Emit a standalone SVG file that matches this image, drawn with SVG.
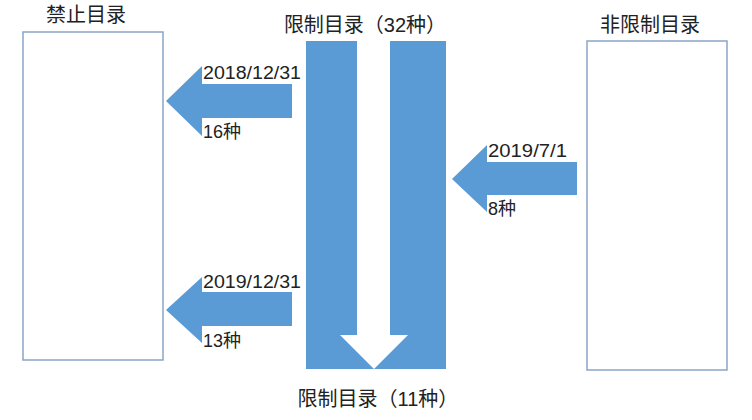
<svg xmlns="http://www.w3.org/2000/svg" width="752" height="420" viewBox="0 0 752 420">
<style>
.box{fill:#fff;stroke:#8aa5c6;stroke-width:1.5}
.blue{fill:#5b9bd5}
.t{font-family:"Liberation Sans","Noto Sans CJK SC",sans-serif;fill:#222}
.title{font-size:20px}
.lbl{font-size:18px}
</style>
<rect width="752" height="420" fill="#fff"/>
<g id="forbidden">
<rect class="box" x="23" y="32" width="140" height="328"/>
<text class="t title" x="86" y="22" text-anchor="middle">禁止目录</text>
</g>
<g id="restricted">
<rect class="blue" x="306" y="41" width="140" height="328"/>
<polygon fill="#fff" points="357,41 390,41 390,335 408,335 374,369 340,335 357,335"/>
<text class="t title" x="365" y="32" text-anchor="middle">限制目录（32种）</text>
<text class="t title" x="378" y="406" text-anchor="middle">限制目录（11种）</text>
</g>
<g id="unrestricted">
<rect class="box" x="587" y="41" width="140" height="329"/>
<text class="t title" x="650" y="32" text-anchor="middle">非限制目录</text>
</g>
<g id="connectors">
<polygon class="blue" points="166,101 202,66 202,84 292,84 292,118 202,118 202,136"/>
<polygon class="blue" points="166,310 202,277 202,292 292,292 292,326 202,326 202,343"/>
<polygon class="blue" points="452,179 487,145 487,162 577,162 577,195 487,195 487,212"/>
<text class="t lbl" x="203" y="79" textLength="98" lengthAdjust="spacingAndGlyphs">2018/12/31</text>
<text class="t lbl" x="203" y="138">16种</text>
<text class="t lbl" x="203" y="288" textLength="98" lengthAdjust="spacingAndGlyphs">2019/12/31</text>
<text class="t lbl" x="203" y="347">13种</text>
<text class="t lbl" x="488" y="157" textLength="79" lengthAdjust="spacingAndGlyphs">2019/7/1</text>
<text class="t lbl" x="488" y="215">8种</text>
</g>
</svg>
